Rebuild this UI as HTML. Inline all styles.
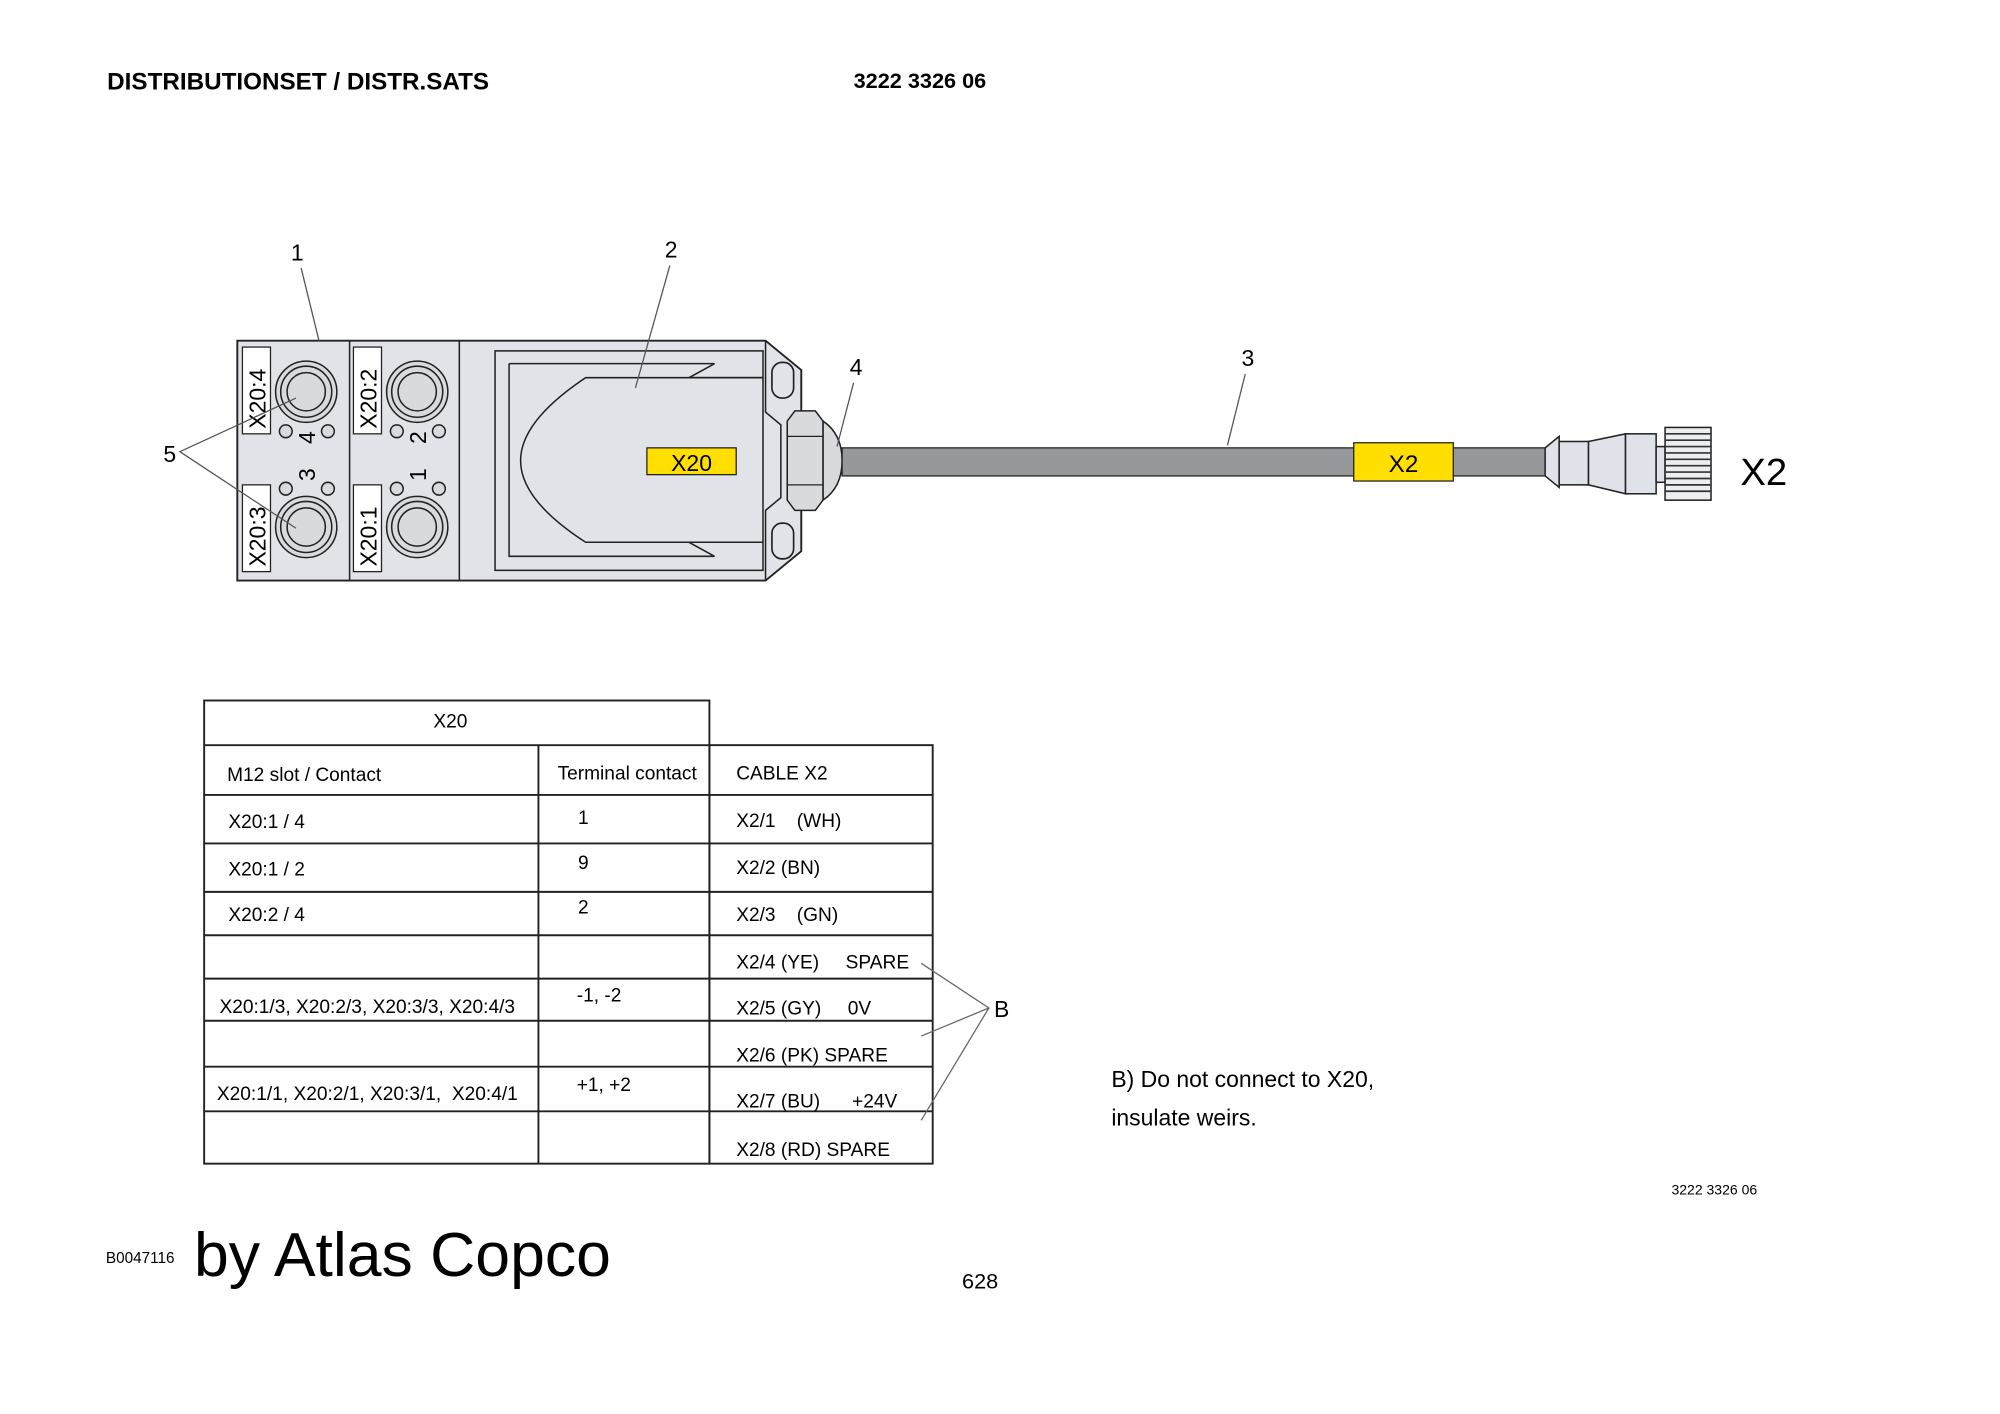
<!DOCTYPE html>
<html><head><meta charset="utf-8"><style>
html,body{margin:0;padding:0;background:#fff}
svg{display:block}
text{font-family:"Liberation Sans",sans-serif;fill:#000}
</style></head><body>
<svg width="2000" height="1414" viewBox="0 0 1567.5 1108.2" xmlns="http://www.w3.org/2000/svg">
<text x="84" y="70" font-size="19" font-weight="bold">DISTRIBUTIONSET / DISTR.SATS</text>
<text x="669" y="69" font-size="17" font-weight="bold">3222 3326 06</text>

<!-- device body -->
<path d="M186,267 H600 L628,290 V432 L600,455 H186 Z" fill="#e1e3e8" stroke="#222" stroke-width="1.5"/>
<line x1="274" y1="267" x2="274" y2="455" stroke="#222" stroke-width="1.2"/>
<line x1="360" y1="267" x2="360" y2="455" stroke="#222" stroke-width="1.2"/>
<path d="M600,267 V323 L612,333 V390 L600,400 V455" fill="none" stroke="#222" stroke-width="1.2"/>
<rect x="605" y="284" width="17" height="28" rx="8" fill="#e1e3e8" stroke="#222" stroke-width="1.3"/>
<rect x="605" y="410" width="17" height="28" rx="8" fill="#e1e3e8" stroke="#222" stroke-width="1.3"/>
<rect x="388" y="275" width="210" height="172" fill="none" stroke="#222" stroke-width="1.2"/>
<path d="M399,285 H560 L540,296 H598 M399,285 V436 H560 L540,425 H598" fill="none" stroke="#222" stroke-width="1.2"/>
<path d="M598,296 H459 Q408,330 408,361 Q408,392 459,425 H598" fill="none" stroke="#222" stroke-width="1.2"/>
<rect x="507" y="351" width="70" height="21" fill="#ffdf00" stroke="#222" stroke-width="1"/>
<text x="542" y="369" font-size="18" text-anchor="middle">X20</text>

<!-- connectors -->
<g fill="#d8dade" stroke="#222" stroke-width="1.2">
<circle cx="240" cy="307" r="24"/><circle cx="240" cy="307" r="20"/><circle cx="240" cy="307" r="15"/>
<circle cx="327" cy="307" r="24"/><circle cx="327" cy="307" r="20"/><circle cx="327" cy="307" r="15"/>
<circle cx="240" cy="413" r="24"/><circle cx="240" cy="413" r="20"/><circle cx="240" cy="413" r="15"/>
<circle cx="327" cy="413" r="24"/><circle cx="327" cy="413" r="20"/><circle cx="327" cy="413" r="15"/>
<circle cx="224" cy="338" r="5"/><circle cx="257" cy="338" r="5"/>
<circle cx="311" cy="338" r="5"/><circle cx="344" cy="338" r="5"/>
<circle cx="224" cy="383" r="5"/><circle cx="257" cy="383" r="5"/>
<circle cx="311" cy="383" r="5"/><circle cx="344" cy="383" r="5"/>
</g>
<g fill="#fff" stroke="#222" stroke-width="1">
<rect x="190" y="272" width="22" height="68"/><rect x="277" y="272" width="22" height="68"/>
<rect x="190" y="380" width="22" height="68"/><rect x="277" y="380" width="22" height="68"/>
</g>
<g font-size="18">
<text transform="translate(208,336) rotate(-90)">X20:4</text>
<text transform="translate(295,336) rotate(-90)">X20:2</text>
<text transform="translate(208,444) rotate(-90)">X20:3</text>
<text transform="translate(295,444) rotate(-90)">X20:1</text>
<text transform="translate(247,348) rotate(-90)">4</text>
<text transform="translate(334,348) rotate(-90)">2</text>
<text transform="translate(247,377) rotate(-90)">3</text>
<text transform="translate(334,377) rotate(-90)">1</text>
</g>

<!-- gland nut -->
<path d="M645,330 Q660,340 660,361 Q660,382 645,392 Z" fill="#d8dade" stroke="#222" stroke-width="1.2"/>
<path d="M617,330 L623,322 H639 L645,330 V392 L639,400 H623 L617,392 Z" fill="#d8dade" stroke="#222" stroke-width="1.2"/>
<line x1="617" y1="342" x2="645" y2="342" stroke="#222"/>
<line x1="617" y1="380" x2="645" y2="380" stroke="#222"/>

<!-- cable -->
<rect x="660" y="351" width="552" height="22" fill="#97989c" stroke="#222" stroke-width="1"/>
<rect x="1061" y="347" width="78" height="30" fill="#ffdf00" stroke="#222" stroke-width="1"/>
<text x="1100" y="370" font-size="19" text-anchor="middle">X2</text>
<g fill="#dfe2e8" stroke="#222" stroke-width="1.2">
<path d="M1211,351 L1222,342 V382 L1211,373 Z"/>
<rect x="1222" y="346" width="23" height="34"/>
<path d="M1245,346 L1274,340 V387 L1245,380 Z"/>
<rect x="1274" y="340" width="24" height="47"/>
<rect x="1298" y="350" width="7" height="28"/>
<rect x="1305" y="335" width="36" height="57" fill="#eceef0"/>
</g>
<g stroke="#333" stroke-width="1.3">
<line x1="1305" y1="340" x2="1341" y2="340"/><line x1="1305" y1="345" x2="1341" y2="345"/>
<line x1="1305" y1="350" x2="1341" y2="350"/><line x1="1305" y1="355" x2="1341" y2="355"/>
<line x1="1305" y1="360" x2="1341" y2="360"/><line x1="1305" y1="365" x2="1341" y2="365"/>
<line x1="1305" y1="370" x2="1341" y2="370"/><line x1="1305" y1="375" x2="1341" y2="375"/>
<line x1="1305" y1="380" x2="1341" y2="380"/><line x1="1305" y1="385" x2="1341" y2="385"/>
</g>
<text x="1364" y="380" font-size="30">X2</text>

<!-- callouts (drawn on top) -->
<text x="228" y="204" font-size="18">1</text>
<line x1="236" y1="210" x2="250" y2="267" stroke="#555" stroke-width="1"/>
<text x="521" y="202" font-size="18">2</text>
<line x1="525" y1="208" x2="498" y2="304" stroke="#555" stroke-width="1"/>
<text x="973" y="287" font-size="18">3</text>
<line x1="976" y1="293" x2="962" y2="349" stroke="#555" stroke-width="1"/>
<text x="666" y="294" font-size="18">4</text>
<line x1="669" y1="300" x2="656" y2="350" stroke="#555" stroke-width="1"/>
<text x="128" y="362" font-size="18">5</text>
<polyline points="232,312 141,354 232,414" fill="none" stroke="#555" stroke-width="1"/>

<!-- table -->
<g stroke="#222" stroke-width="1.5" fill="none">
<rect x="160" y="549" width="396" height="363"/>
<rect x="556" y="584" width="175" height="328"/>
<line x1="160" y1="584" x2="556" y2="584"/>
<line x1="422" y1="584" x2="422" y2="912"/>
<line x1="160" y1="623" x2="731" y2="623"/>
<line x1="160" y1="661" x2="731" y2="661"/>
<line x1="160" y1="699" x2="731" y2="699"/>
<line x1="160" y1="733" x2="731" y2="733"/>
<line x1="160" y1="767" x2="731" y2="767"/>
<line x1="160" y1="800" x2="731" y2="800"/>
<line x1="160" y1="836" x2="731" y2="836"/>
<line x1="160" y1="871" x2="731" y2="871"/>
</g>
<g font-size="15">
<text x="353" y="570" text-anchor="middle">X20</text>
<text x="178" y="612">M12 slot / Contact</text>
<text x="437" y="611">Terminal contact</text>
<text x="577" y="611">CABLE X2</text>
<text x="179" y="649">X20:1 / 4</text><text x="453" y="646">1</text><text x="577" y="648">X2/1 &#160;&#160;&#160;(WH)</text>
<text x="179" y="686">X20:1 / 2</text><text x="453" y="681">9</text><text x="577" y="685">X2/2 (BN)</text>
<text x="179" y="722">X20:2 / 4</text><text x="453" y="716">2</text><text x="577" y="722">X2/3 &#160;&#160;&#160;(GN)</text>
<text x="577" y="759">X2/4 (YE) &#160;&#160;&#160;&#160;SPARE</text>
<text x="172" y="794">X20:1/3, X20:2/3, X20:3/3, X20:4/3</text><text x="452" y="785">-1, -2</text><text x="577" y="795">X2/5 (GY) &#160;&#160;&#160;&#160;0V</text>
<text x="577" y="832">X2/6 (PK) SPARE</text>
<text x="170" y="862">X20:1/1, X20:2/1, X20:3/1, &#160;X20:4/1</text><text x="452" y="855">+1, +2</text><text x="577" y="868">X2/7 (BU) &#160;&#160;&#160;&#160;&#160;+24V</text>
<text x="577" y="906">X2/8 (RD) SPARE</text>
</g>
<g stroke="#666" stroke-width="1" fill="none">
<polyline points="722,755 775,790 722,812"/>
<line x1="775" y1="790" x2="722" y2="878"/>
</g>
<text x="779" y="797" font-size="18">B</text>
<text x="871" y="852" font-size="18">B) Do not connect to X20,</text>
<text x="871" y="882" font-size="18">insulate weirs.</text>
<text x="1310" y="936" font-size="11">3222 3326 06</text>
<text x="83" y="990" font-size="12">B0047116</text>
<text x="152" y="1000" font-size="49" font-family="'DejaVu Sans',sans-serif">by Atlas Copco</text>
<text x="754" y="1010" font-size="17">628</text>
</svg>
</body></html>
